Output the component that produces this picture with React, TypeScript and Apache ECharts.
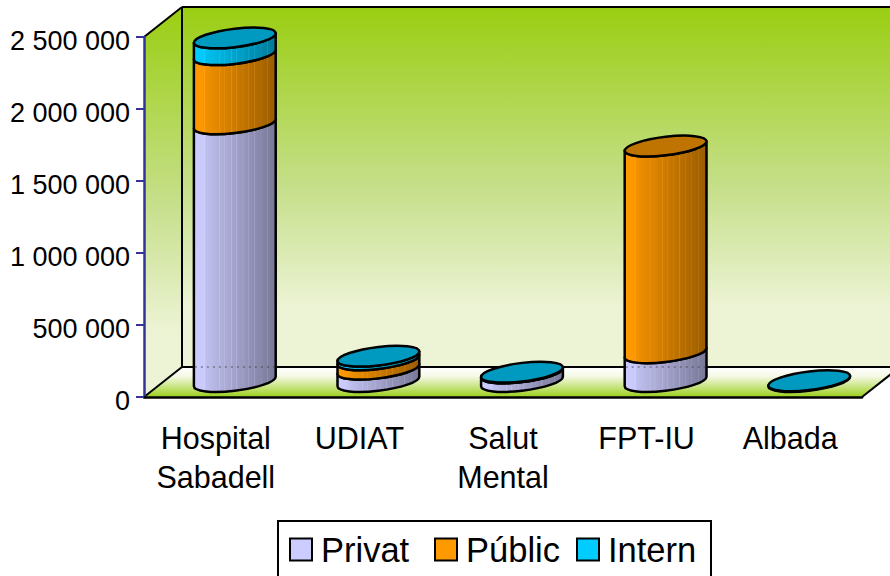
import React, { useEffect, useRef } from "react";
import * as echarts from "echarts";

const categories = ["Hospital\nSabadell", "UDIAT", "Salut\nMental", "FPT-IU", "Albada"];
const privat = [1790000, 86000, 60000, 200000, 0];
const public_ = [480000, 65000, 1000, 1435000, 0];
const intern = [116000, 25000, 4000, 0, 5000];

const seriesNames = ["Privat", "Públic", "Intern"];
const seriesValues = [privat, public_, intern];
const legendColors = ["#CCCCFF", "#FF9900", "#00CCFF"];
const sideDark = ["#777796", "#9A5C00", "#007A99"];
const capColors = ["#9999BF", "#BF7300", "#0099BF"];
const legendLefts = [289, 434, 576];

const FONT = "'Liberation Sans', Arial, sans-serif";
const GRID = { left: 144, top: 37, width: 718, height: 360 };
const DEPTH_X = 38;
const DEPTH_Y = 30;
const A = 41.2;
const B = 9.2;
const TILT = 7;
const stripes = [0.13, 0.31, 0.37, 0.46, 0.52, 0.6, 0.67, 0.74, 0.82, 0.9];

function hex(c: string) {
  return [1, 3, 5].map((i) => parseInt(c.slice(i, i + 2), 16));
}
function sideGradient(k: number) {
  const a = hex(legendColors[k]);
  const b = hex(sideDark[k]);
  const mix = (t: number, lift: number) =>
    "rgb(" + a.map((v, i) => Math.min(255, Math.round(v + (b[i] - v) * t + lift))).join(",") + ")";
  const stops: { offset: number; color: string }[] = [
    { offset: 0, color: mix(0, 0) },
    { offset: 0.12, color: mix(0.04, 0) },
  ];
  stripes.forEach((s) => {
    stops.push({ offset: s - 0.008, color: mix(s, 0) });
    stops.push({ offset: s, color: mix(s, 16) });
    stops.push({ offset: s + 0.008, color: mix(s, 0) });
  });
  stops.push({ offset: 1, color: mix(1, 0) });
  return new echarts.graphic.LinearGradient(0, 0, 1, 0, stops);
}

const rad = (TILT * Math.PI) / 180;
const S = Math.sin(rad);
const C = Math.cos(rad);
const T0 = Math.atan2(B * S, A * C);
const HW = Math.sqrt(A * A * C * C + B * B * S * S);

function pt(cx: number, cy: number, t: number) {
  const u = A * Math.cos(t);
  const v = B * Math.sin(t);
  return [cx + u * C + v * S, cy - u * S + v * C];
}
function deriv(t: number) {
  const u = -A * Math.sin(t);
  const v = B * Math.cos(t);
  return [u * C + v * S, -u * S + v * C];
}
// cubic Bézier segments of the tilted ellipse from angle t1 to t2
function curve(cx: number, cy: number, t1: number, t2: number) {
  const n = Math.ceil(Math.abs(t2 - t1) / (Math.PI / 2) - 1e-9);
  const d = (t2 - t1) / n;
  const k = (4 / 3) * Math.tan(d / 4);
  let out = "";
  for (let i = 0; i < n; i++) {
    const a = t1 + i * d;
    const b = a + d;
    const p0 = pt(cx, cy, a);
    const p1 = pt(cx, cy, b);
    const d0 = deriv(a);
    const d1 = deriv(b);
    out += ` C ${p0[0] + k * d0[0]} ${p0[1] + k * d0[1]} ${p1[0] - k * d1[0]} ${p1[1] - k * d1[1]} ${p1[0]} ${p1[1]}`;
  }
  return out;
}

function bodyPath(cx: number, yBot: number, yTop: number) {
  const lb = pt(cx, yBot, T0 + Math.PI);
  const rt = pt(cx, yTop, T0);
  return (
    `M ${lb[0]} ${lb[1]}` +
    curve(cx, yBot, T0 + Math.PI, T0) +
    ` L ${rt[0]} ${rt[1]}` +
    curve(cx, yTop, T0, T0 + Math.PI) +
    " Z"
  );
}
function capPath(cx: number, y: number) {
  const r = pt(cx, y, T0);
  return `M ${r[0]} ${r[1]}` + curve(cx, y, T0, T0 + 2 * Math.PI) + " Z";
}

function renderFor(k: number) {
  return (_params: any, api: any) => {
    const i = api.value(0);
    const base = api.value(1);
    const top = api.value(2);
    const p0 = api.coord([i, base]);
    const p1 = api.coord([i, top]);
    const cx = p0[0] + DEPTH_X / 2;
    const yBot = p0[1] - DEPTH_Y / 2 - 0.5;
    const yTop = p1[1] - DEPTH_Y / 2 - 0.5;
    const floorY = api.coord([i, 0])[1] - DEPTH_Y;
    const children: any[] = [];
    const style = { stroke: "#000", lineWidth: 2.5, lineJoin: "round" };
    if (top > base) {
      children.push({
        type: "path",
        shape: { pathData: bodyPath(cx, yBot, yTop) },
        style: { ...style, fill: sideGradient(k) },
      });
      if (yBot > floorY && yTop + 12 < floorY) {
        children.push({
          type: "line",
          shape: { x1: cx - HW + 1, y1: floorY, x2: cx + HW - 1, y2: floorY },
          style: { stroke: "rgba(60,60,60,0.4)", lineWidth: 2, lineDash: [2, 4] },
        });
      }
    }
    const above = seriesValues.slice(k + 1).some((s) => s[i] > 0);
    if (!above && top > base) {
      children.push({
        type: "path",
        shape: { pathData: capPath(cx, yTop) },
        style: { ...style, fill: capColors[k] },
      });
    }
    return { type: "group", children };
  };
}

function seriesData(k: number) {
  return categories.map((_, i) => {
    const base = seriesValues.slice(0, k).reduce((t, s) => t + s[i], 0);
    return [i, base, base + seriesValues[k][i]];
  });
}

const wallGradient = () =>
  new echarts.graphic.LinearGradient(0, 0, 0, 1, [
    { offset: 0, color: "#9ACE12" },
    { offset: 0.5, color: "#C6DF8A" },
    { offset: 0.84, color: "#EDF4D6" },
    { offset: 1, color: "#EDF4D6" },
  ]);
const floorGradient = () =>
  new echarts.graphic.LinearGradient(0, 0, 0, 1, [
    { offset: 0, color: "#FFFFFF" },
    { offset: 0.3, color: "#F6FAE8" },
    { offset: 1, color: "#9CCF1E" },
  ]);

function buildOption() {
  const x0 = GRID.left;
  const x1 = GRID.left + GRID.width;
  const yT = GRID.top;
  const yB = GRID.top + GRID.height;
  const bx = x0 + DEPTH_X;
  const edge = { stroke: "#000", lineWidth: 2 };
  const line = (a: number, b: number, c: number, d: number) => ({
    type: "line",
    z: -1,
    shape: { x1: a, y1: b, x2: c, y2: d },
    style: edge,
  });
  return {
    animation: false,
    backgroundColor: "#fff",
    grid: { left: GRID.left, top: GRID.top, width: GRID.width, height: GRID.height },
    xAxis: {
      type: "category",
      data: categories,
      axisLine: { lineStyle: { color: "#000", width: 2.5 } },
      axisTick: { length: 8, lineStyle: { color: "#000", width: 2 } },
      axisLabel: {
        interval: 0,
        margin: 21,
        fontFamily: FONT,
        fontSize: 30.5,
        lineHeight: 39,
        color: "#000",
      },
    },
    yAxis: {
      type: "value",
      min: 0,
      max: 2500000,
      interval: 500000,
      splitLine: { show: false },
      axisLine: { show: true, lineStyle: { color: "#333399", width: 2.5 } },
      axisTick: { show: true, length: 8, lineStyle: { color: "#333399", width: 2 } },
      axisLabel: {
        margin: 14,
        fontFamily: FONT,
        fontSize: 27,
        color: "#000",
        verticalAlign: "top",
        lineHeight: 7,
        formatter: (v: number) => String(v).replace(/\B(?=(\d{3})+$)/g, " "),
      },
    },
    legend: seriesNames.map((name, k) => ({
      data: [name],
      left: legendLefts[k],
      top: 532,
      padding: 0,
      icon: "rect",
      itemWidth: 22,
      itemHeight: 22,
      itemGap: 0,
      selectedMode: false,
      itemStyle: { borderColor: "#000", borderWidth: 2 },
      textStyle: { fontFamily: FONT, fontSize: 34.5, color: "#000", padding: [0, 0, 0, 4] },
    })),
    graphic: [
      {
        type: "polygon",
        z: -2,
        shape: { points: [[bx, yT - DEPTH_Y], [900, yT - DEPTH_Y], [900, yB - DEPTH_Y], [bx, yB - DEPTH_Y]] },
        style: { fill: wallGradient() },
      },
      {
        type: "polygon",
        z: -2,
        shape: { points: [[x0, yT], [bx, yT - DEPTH_Y], [bx, yB - DEPTH_Y], [x0, yB]] },
        style: { fill: wallGradient() },
      },
      {
        type: "polygon",
        z: -2,
        shape: { points: [[x0, yB], [bx, yB - DEPTH_Y], [x1 + DEPTH_X, yB - DEPTH_Y], [x1, yB]] },
        style: { fill: floorGradient() },
      },
      line(x0, yT, bx, yT - DEPTH_Y),
      line(bx, yT - DEPTH_Y, 890, yT - DEPTH_Y),
      line(bx, yT - DEPTH_Y, bx, yB - DEPTH_Y),
      line(bx, yB - DEPTH_Y, 890, yB - DEPTH_Y),
      line(x0, yB, bx, yB - DEPTH_Y),
      line(x1, yB, x1 + DEPTH_X, yB - DEPTH_Y),
      {
        type: "rect",
        z: -1,
        shape: { x: 278, y: 521, width: 433, height: 70 },
        style: { fill: "#fff", stroke: "#000", lineWidth: 2 },
      },
    ],
    series: seriesNames.map((name, k) => ({
      type: "custom",
      name,
      coordinateSystem: "cartesian2d",
      itemStyle: { color: legendColors[k] },
      encode: { x: 0, y: [1, 2] },
      clip: false,
      data: seriesData(k),
      renderItem: renderFor(k),
    })),
  };
}

export default function App() {
  const ref = useRef<HTMLDivElement>(null);
  useEffect(() => {
    const chart = echarts.init(ref.current!, undefined, { renderer: "svg" });
    chart.setOption(buildOption() as any);
    return () => chart.dispose();
  }, []);
  return (
    <div
      ref={ref}
      style={{ position: "absolute", left: 0, top: 0, width: 890, height: 576, overflow: "hidden" }}
    />
  );
}
